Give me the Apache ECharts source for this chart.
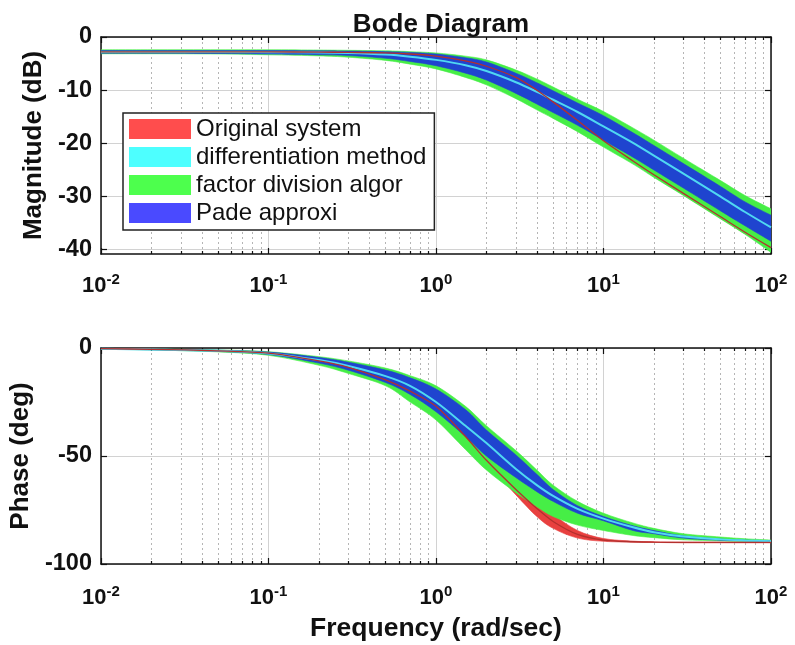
<!DOCTYPE html>
<html><head><meta charset="utf-8">
<script src="https://cdn.jsdelivr.net/npm/echarts@6/dist/echarts.min.js"></script>
<style>html,body{margin:0;padding:0;background:#fff}#c{width:795px;height:645px}</style>
</head><body><div id="c"></div>
<script>
// ---- data ----
const freq = [0.01,0.02,0.05,0.1,0.2,0.3,0.5,0.7,1,1.5,2,3,4,5,7,10,15,20,30,50,70,100];

// Magnitude (dB)
const greenUpperMag = [-2.4,-2.4,-2.4,-2.4,-2.45,-2.5,-2.6,-2.75,-3.0,-3.6,-4.3,-6.2,-7.9,-9.4,-11.7,-14.0,-17.1,-19.4,-22.8,-27.0,-29.8,-32.3];
const greenLowerMag = [-3.15,-3.15,-3.2,-3.35,-3.55,-3.8,-4.4,-5.1,-6.0,-7.6,-9.0,-11.6,-13.7,-15.3,-17.8,-20.7,-23.9,-26.4,-29.8,-34.2,-37.1,-40.5];
const blueUpperMag  = [-2.55,-2.55,-2.55,-2.55,-2.6,-2.65,-2.75,-2.9,-3.2,-3.9,-4.7,-6.8,-8.6,-10.1,-12.4,-14.8,-18.0,-20.4,-23.8,-28.1,-31.0,-33.5];
const blueLowerMag  = [-3.05,-3.05,-3.1,-3.2,-3.35,-3.5,-4.0,-4.6,-5.4,-6.8,-8.1,-10.6,-12.6,-14.2,-16.6,-19.4,-22.6,-25.0,-28.4,-32.7,-35.5,-38.4];
const cyanMag       = [-2.8,-2.8,-2.8,-2.85,-2.9,-3.0,-3.3,-3.7,-4.3,-5.3,-6.4,-8.5,-10.3,-11.8,-14.1,-16.8,-19.9,-22.3,-25.7,-30.0,-32.9,-35.8];
const redUpperMag   = [-2.65,-2.65,-2.65,-2.65,-2.7,-2.75,-2.85,-3.05,-3.45,-4.35,-5.3,-7.4,-9.7,-11.9,-15.4,-19.2,-23.0,-25.6,-29.1,-33.5,-36.4,-39.3];
const redLowerMag   = [-2.95,-2.95,-2.95,-2.95,-3.0,-3.05,-3.15,-3.35,-3.75,-4.65,-5.7,-7.8,-10.3,-12.5,-16.0,-19.8,-23.6,-26.2,-29.7,-34.1,-37.0,-39.9];
const redMag        = [-2.8,-2.8,-2.8,-2.8,-2.85,-2.9,-3.0,-3.2,-3.6,-4.5,-5.5,-7.6,-10.0,-12.2,-15.7,-19.5,-23.3,-25.9,-29.4,-33.8,-36.7,-39.6];

// Phase (deg)
const greenUpperPh = [-0.3,-0.5,-0.9,-1.7,-4.0,-6.0,-9.3,-12.8,-17.5,-27,-36,-47.5,-56.5,-63.5,-71,-76.5,-81,-83.5,-86,-87.5,-88.3,-88.9];
const greenLowerPh = [-0.5,-0.9,-1.8,-3.4,-8.0,-11.8,-17.5,-25,-33.3,-47,-56.5,-67,-73.5,-78,-82,-84.5,-86.8,-87.8,-88.8,-89.3,-89.5,-89.7];
const blueUpperPh  = [-0.35,-0.55,-1.0,-1.9,-4.4,-6.6,-10.2,-13.8,-19,-28.5,-38,-49.5,-58.5,-65.5,-73,-78,-82.3,-84.5,-87,-88.5,-89,-89.3];
const blueLowerPh  = [-0.45,-0.85,-1.6,-3.0,-7.0,-10.3,-16.0,-21.5,-29.5,-41,-50,-60,-66.5,-71,-76.5,-80,-84.5,-86,-88,-89,-89.3,-89.6];
const cyanPh       = [-0.4,-0.7,-1.3,-2.5,-5.6,-8.3,-13.0,-17.5,-25,-36,-44,-56,-63.5,-68.5,-74.5,-79,-83,-85.3,-87.3,-88.6,-89.1,-89.5];
const redUpperPh   = [-0.25,-0.55,-1.2,-2.3,-5.8,-8.8,-14.5,-19.6,-26.5,-40.3,-51,-63,-70.5,-77,-84.5,-88.2,-89.4,-89.7,-89.9,-89.9,-89.9,-89.9];
const redLowerPh   = [-0.35,-0.65,-1.4,-2.5,-6.2,-9.2,-15.1,-20.4,-27.5,-41.7,-53,-68,-78,-83.5,-88,-89.5,-89.9,-90,-90.2,-90.2,-90.2,-90.2];
const redPh        = [-0.3,-0.6,-1.3,-2.4,-6.0,-9.0,-14.8,-20.0,-27.0,-41.0,-52.0,-65.5,-74.3,-80.3,-86.3,-88.9,-89.7,-89.9,-90.0,-90.0,-90.0,-90.0];

const seriesNames = ['Original system','differentiation method','factor division algor','Pade approxi'];
const xTickExponents = [-2,-1,0,1,2];
const magTicks = [-40,-30,-20,-10,0];
const phaseTicks = [-100,-50,0];

// ---- styling ----
const FF = '"Liberation Sans", Arial, sans-serif';
const C = {
  red: '#e8403f', redL: '#ff4d4d', redLine: '#b3302e',
  cyan: '#4fd8f2', cyanL: '#4dffff',
  green: '#46ee46', greenL: '#4dff4d',
  blue: '#1f44cf', blueL: '#4a4aff'
};
const lg = v => Math.log10(v);
const pts = arr => freq.map((f, i) => [lg(f), arr[i]]);

const minorX = [];
for (let n = -2; n < 2; n++) for (let k = 2; k <= 9; k++) minorX.push(Math.log10(k * Math.pow(10, n)));

function catmull(p) {
  let d = '';
  for (let i = 0; i < p.length - 1; i++) {
    const p0 = p[i - 1] || p[i], p1 = p[i], p2 = p[i + 1], p3 = p[i + 2] || p2;
    const t = 1 / 6;
    d += ' C' + (p1[0] + (p2[0] - p0[0]) * t) + ',' + (p1[1] + (p2[1] - p0[1]) * t) + ' ' +
         (p2[0] - (p3[0] - p1[0]) * t) + ',' + (p2[1] - (p3[1] - p1[1]) * t) + ' ' + p2[0] + ',' + p2[1];
  }
  return d;
}

function band(name, lo, up, color, legendColor, gi) {
  return {
    type: 'custom', name, xAxisIndex: gi * 4, yAxisIndex: gi * 2, clip: true, silent: true,
    itemStyle: {color: legendColor},
    data: freq.map((f, i) => [lg(f), lo[i], up[i]]),
    encode: {x: 0, y: [1, 2]},
    renderItem(params, api) {
      if (params.dataIndex !== 0) return null;
      const n = params.dataInsideLength;
      const U = [], L = [];
      for (let i = 0; i < n; i++) {
        U.push(api.coord([api.value(0, i), api.value(2, i)]));
        L.push(api.coord([api.value(0, i), api.value(1, i)]));
      }
      L.reverse();
      const d = 'M' + U[0][0] + ',' + U[0][1] + catmull(U) + ' L' + L[0][0] + ',' + L[0][1] + catmull(L) + ' Z';
      return {type: 'path', shape: {pathData: d}, style: {fill: color, stroke: color, lineWidth: 0.6}};
    }
  };
}
function line(name, arr, color, legendColor, gi, width) {
  return {type: 'line', name, xAxisIndex: gi * 4, yAxisIndex: gi * 2, data: pts(arr), symbol: 'none',
    smooth: 0.3, silent: true, lineStyle: {color, width}, itemStyle: {color: legendColor}};
}

const frame = {show: true, onZero: false, lineStyle: {color: '#111', width: 1.5}};
const tickStyle = {color: '#111', width: 1.2};
function xAxes(gi, margin, withName) {
  const main = {
    type: 'value', gridIndex: gi, position: 'bottom', min: -2, max: 2, interval: 1,
    axisLine: frame, axisTick: {inside: true, length: 6, lineStyle: tickStyle},
    axisLabel: {margin, formatter: v => '{b|10}{s|' + v + '}', customValues: xTickExponents,
      rich: {b: {fontSize: 22, fontWeight: 'bold', color: '#111', fontFamily: FF},
             s: {fontSize: 15, fontWeight: 'bold', color: '#111', fontFamily: FF, padding: [0, 0, 12, 0]}}},
    splitLine: {show: true, lineStyle: {color: '#d2d2d2', width: 1}}
  };
  if (withName) {
    main.name = 'Frequency (rad/sec)';
    main.nameLocation = 'middle';
    main.nameGap = 51;
    main.nameTextStyle = {fontSize: 26.5, fontWeight: 'bold', color: '#111', fontFamily: FF};
  }
  return [
    main,
    {type: 'value', gridIndex: gi, position: 'bottom', min: -2, max: 2,
     axisLine: {show: false, onZero: false}, axisTick: {inside: true, length: 3, customValues: minorX, lineStyle: tickStyle},
     axisLabel: {show: false}, splitLine: {show: true, lineStyle: {color: '#b5b5b5', width: 1, type: [2, 3]}}},
    {type: 'value', gridIndex: gi, position: 'top', min: -2, max: 2, interval: 1,
     axisLine: frame, axisTick: {inside: true, length: 6, lineStyle: tickStyle},
     axisLabel: {show: false}, splitLine: {show: false}},
    {type: 'value', gridIndex: gi, position: 'top', min: -2, max: 2,
     axisLine: {show: false, onZero: false}, axisTick: {inside: true, length: 3, customValues: minorX, lineStyle: tickStyle},
     axisLabel: {show: false}, splitLine: {show: false}}
  ];
}
function yAxes(gi, min, max, ticks, name, nameGap) {
  return [
    {type: 'value', gridIndex: gi, position: 'left', min, max,
     axisLine: frame, axisTick: {inside: true, length: 6, customValues: ticks, lineStyle: tickStyle},
     axisLabel: {customValues: ticks, margin: 9, fontSize: 23.5, fontWeight: 'bold', color: '#111', fontFamily: FF},
     splitLine: {show: true, lineStyle: {color: '#d2d2d2', width: 1}},
     name, nameLocation: 'middle', nameGap,
     nameTextStyle: {fontSize: 26, fontWeight: 'bold', color: '#111', fontFamily: FF}},
    {type: 'value', gridIndex: gi, position: 'right', min, max,
     axisLine: frame, axisTick: {inside: true, length: 6, customValues: ticks, lineStyle: tickStyle},
     axisLabel: {show: false}, splitLine: {show: false}}
  ];
}

const series = [];
[[0, [greenLowerMag, greenUpperMag], [blueLowerMag, blueUpperMag], cyanMag, [redLowerMag, redUpperMag], redMag],
 [1, [greenLowerPh, greenUpperPh], [blueLowerPh, blueUpperPh], cyanPh, [redLowerPh, redUpperPh], redPh]]
.forEach(([gi, g, b, c, r, rc]) => {
  series.push(band(seriesNames[0], r[0], r[1], C.red, C.redL, gi));
  series.push(band(seriesNames[2], g[0], g[1], C.green, C.greenL, gi));
  series.push(band(seriesNames[3], b[0], b[1], C.blue, C.blueL, gi));
  series.push(line(seriesNames[1], c, C.cyan, C.cyanL, gi, 2));
  series.push(line('_orig' + gi, rc, C.redLine, C.redLine, gi, 1.3));
});

const chart = echarts.init(document.getElementById('c'), null, {renderer: 'canvas'});
chart.setOption({
  animation: false,
  backgroundColor: '#fff',
  title: {text: 'Bode Diagram', left: 436, top: 7, textAlign: 'center',
    textStyle: {fontSize: 26, fontWeight: 'bold', color: '#111', fontFamily: FF}},
  legend: {
    orient: 'vertical', left: 123, top: 113, icon: 'rect', itemWidth: 62, itemHeight: 20, itemGap: 4,
    padding: [4, 8, 5, 6], borderColor: '#222', borderWidth: 1.5, backgroundColor: '#fff', selectedMode: false,
    textStyle: {fontSize: 24, color: '#111', fontFamily: FF, lineHeight: 24},
    data: [
      {name: seriesNames[0], itemStyle: {color: C.redL}},
      {name: seriesNames[1], itemStyle: {color: C.cyanL}},
      {name: seriesNames[2], itemStyle: {color: C.greenL}},
      {name: seriesNames[3], itemStyle: {color: C.blueL}}
    ]
  },
  grid: [
    {left: 101, top: 37, width: 670, height: 217},
    {left: 101, top: 348, width: 670, height: 216}
  ],
  xAxis: [...xAxes(0, 18, false), ...xAxes(1, 20, true)],
  yAxis: [...yAxes(0, -40.8, 0, magTicks, 'Magnitude (dB)', 50),
          ...yAxes(1, -100, 0, phaseTicks, 'Phase (deg)', 66)],
  series
});
</script></body></html>
